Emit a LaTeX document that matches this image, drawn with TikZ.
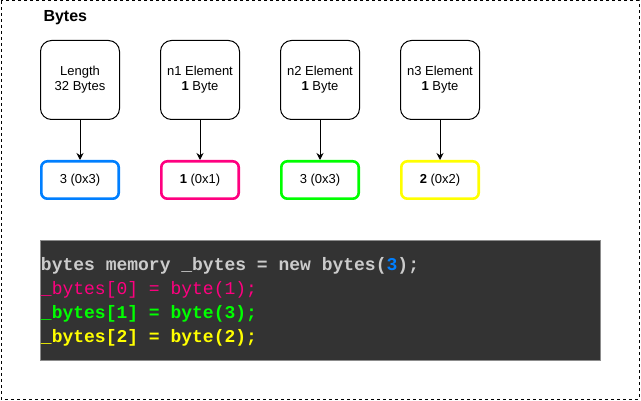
\documentclass[tikz,border=0pt]{standalone}
\usepackage{fontspec}
\setmainfont{Liberation Sans}
\newfontfamily\codefont{Liberation Mono}
\usetikzlibrary{positioning,arrows.meta}
\definecolor{nblue}{HTML}{007FFF}
\definecolor{npink}{HTML}{FF0080}
\definecolor{ngreen}{HTML}{00FF00}
\definecolor{nyellow}{HTML}{FFFF00}
\definecolor{codebg}{HTML}{333333}
\definecolor{codegray}{HTML}{CCCCCC}
\tikzset{
	field/.style={draw, line width=1pt, rounded corners=11pt, minimum width=79pt, minimum height=79pt, align=center, font=\fontsize{13}{15}\selectfont, inner sep=0pt},
	val/.style={draw=#1, line width=2.6pt, rounded corners=6pt, minimum width=77.4pt, minimum height=37.4pt, font=\fontsize{13}{15}\selectfont, inner sep=0pt},
	feed/.style={-{Stealth[length=7pt,width=7pt]}, line width=1pt}
}
\begin{document}
\begin{tikzpicture}[x=1pt,y=-1pt]
			%%%%% START %%%%%
			\useasboundingbox (0,0) rectangle (641,401);
			\draw[line width=1pt, dash pattern=on 3pt off 3pt] (1,1) rectangle (639,399);
			
			\node[anchor=west, font=\bfseries\fontsize{16}{18}\selectfont] (title) at (40,18) {Bytes};
			
			\node[field] (len) at (80,80) {Length\\32 Bytes};
			\node[field, right=40pt of len] (e1) {n1 Element\\\textbf{1} Byte};
			\node[field, right=40pt of e1] (e2) {n2 Element\\\textbf{1} Byte};
			\node[field, right=40pt of e2] (e3) {n3 Element\\\textbf{1} Byte};
			
			\node[val=nblue, below=40pt of len] (v0) {3 (0x3)};
			\node[val=npink, below=40pt of e1] (v1) {\textbf{1} (0x1)};
			\node[val=ngreen, below=40pt of e2] (v2) {3 (0x3)};
			\node[val=nyellow, below=40pt of e3] (v3) {\textbf{2} (0x2)};
			
			\foreach \a/\b in {len/v0, e1/v1, e2/v2, e3/v3}
				\draw[feed] (\a) -- (\b);
			
			\node[draw=black!45, fill=codebg, minimum width=560pt, minimum height=120pt, inner sep=0pt] (code) at (320,300) {};
			\node[anchor=north west, align=left, inner sep=0pt, font=\codefont\bfseries\fontsize{18}{24}\selectfont] (src) at ([xshift=1pt,yshift=-17pt]code.north west)
				{\textcolor{codegray}{bytes memory \_bytes = new bytes(}\textcolor{nblue}{3}\textcolor{codegray}{);}\\
				{\mdseries\textcolor{npink}{\_bytes[0] = byte(1);}}\\
				\textcolor{ngreen}{\_bytes[1] = byte(3);}\\
				\textcolor{nyellow}{\_bytes[2] = byte(2);}};
			%%%%% END %%%%%
\end{tikzpicture}
\end{document}
